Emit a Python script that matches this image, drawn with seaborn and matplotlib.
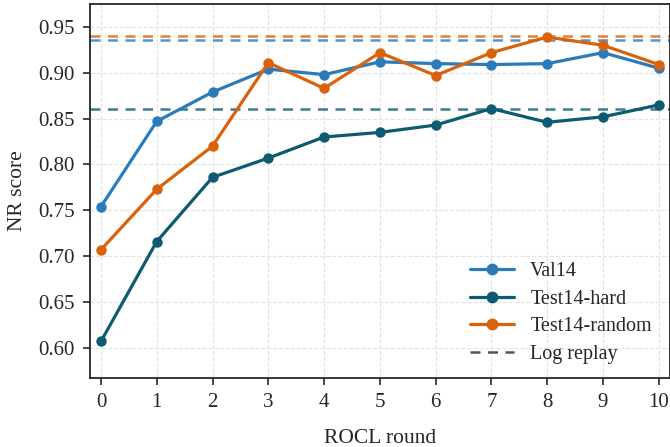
import numpy as np
import pandas as pd
import seaborn as sns
import matplotlib
matplotlib.use("Agg")
import matplotlib.pyplot as plt
from matplotlib.lines import Line2D

rounds = list(range(11))
val14 = [0.754, 0.847, 0.879, 0.904, 0.898, 0.912, 0.910, 0.909, 0.910, 0.922, 0.905]
test14_hard = [0.607, 0.716, 0.786, 0.807, 0.830, 0.835, 0.843, 0.861, 0.846, 0.852, 0.865]
test14_random = [0.707, 0.773, 0.820, 0.911, 0.883, 0.922, 0.897, 0.922, 0.939, 0.930, 0.909]
series_names = ["Val14", "Test14-hard", "Test14-random"]
log_replay = [0.936, 0.860, 0.940]
colors = ["#2b7bba", "#0e5a70", "#d9620a"]

sns.set_style("ticks")
plt.rcParams['font.family'] = ['Liberation Serif', 'DejaVu Serif']
plt.rcParams['font.size'] = 15

df = pd.DataFrame({"round": rounds * 3,
                   "score": val14 + test14_hard + test14_random,
                   "split": sum([[n] * len(rounds) for n in series_names], [])})

fig, ax = plt.subplots(figsize=(6.7, 4.47), dpi=100)
fig.subplots_adjust(left=0.134, right=1.0, top=0.991, bottom=0.154)

for name, c, ref in zip(series_names, colors, log_replay):
    ax.axhline(ref, color=c, ls="--", lw=1.8, alpha=0.8, dashes=(4, 3), zorder=1)

sns.lineplot(data=df, x="round", y="score", hue="split", palette=colors,
             marker="o", markersize=7.5, markeredgewidth=0, linewidth=2.3, ax=ax, legend=False, zorder=3)

ax.set_xlim(-0.2, 10.2)
ax.set_ylim(0.567, 0.975)
ax.set_xticks(rounds)
ax.set_yticks(np.arange(0.60, 0.951, 0.05))
ax.yaxis.set_major_formatter(matplotlib.ticker.FormatStrFormatter("%.2f"))
ax.grid(True, ls="--", color="#e3e3e3", lw=0.8)
ax.set_axisbelow(True)
ax.set_xlabel("ROCL round", fontsize=15.5, labelpad=12)
ax.set_ylabel("NR score", fontsize=15.5, labelpad=8)
ax.tick_params(labelsize=15, length=5, width=1.2, pad=6)
for s in ax.spines.values():
    s.set_linewidth(1.3)

handles = [Line2D([], [], color=c, marker="o", markersize=7.5, lw=2.3, label=n)
           for n, c in zip(series_names, colors)]
handles.append(Line2D([], [], color="#555555", ls="--", lw=1.8, dashes=(4, 3), label="Log replay"))
ax.legend(handles=handles, loc="lower right", frameon=False, fontsize=14.5,
          handlelength=2.2, labelspacing=0.42, bbox_to_anchor=(1.0, -0.01))

fig.savefig("out.png", dpi=100)
